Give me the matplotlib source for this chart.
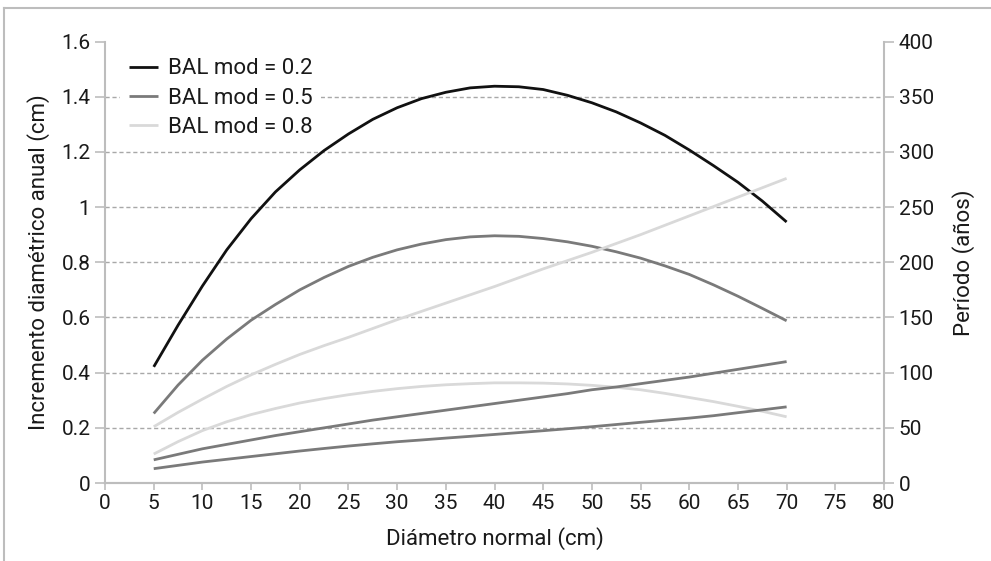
import matplotlib
matplotlib.use("Agg")
import matplotlib.pyplot as plt
from matplotlib.lines import Line2D

plt.rcParams['font.family'] = ['Roboto', 'DejaVu Sans']

# Data
diam = [5, 7.5, 10, 12.5, 15, 17.5, 20, 22.5, 25, 27.5, 30, 32.5, 35, 37.5, 40,
        42.5, 45, 47.5, 50, 52.5, 55, 57.5, 60, 62.5, 65, 67.5, 70]
inc_02 = [0.421, 0.572, 0.714, 0.845, 0.958, 1.055, 1.135, 1.205, 1.265, 1.318, 1.36,
          1.393, 1.416, 1.432, 1.438, 1.436, 1.426, 1.405, 1.378, 1.345, 1.305, 1.26,
          1.207, 1.15, 1.09, 1.022, 0.946]
inc_05 = [0.252, 0.355, 0.445, 0.522, 0.59, 0.647, 0.70, 0.745, 0.785, 0.818, 0.845,
          0.866, 0.882, 0.892, 0.896, 0.894, 0.886, 0.874, 0.858, 0.838, 0.815, 0.787,
          0.756, 0.718, 0.677, 0.633, 0.588]
inc_08 = [0.105, 0.15, 0.19, 0.222, 0.248, 0.27, 0.29, 0.306, 0.32, 0.332, 0.342,
          0.35, 0.356, 0.36, 0.363, 0.363, 0.362, 0.359, 0.354, 0.347, 0.338, 0.325,
          0.31, 0.295, 0.278, 0.26, 0.24]
per_08 = [51, 64, 76, 87.5, 98, 107.5, 116.5, 124.5, 132, 140, 148, 155.5, 163, 170.5, 178,
          186, 194, 201.5, 209, 217, 225, 233.5, 242, 250.5, 259, 267.5, 276]
per_05 = [21, 26, 31, 35, 39, 43, 46.5, 50, 53.5, 57, 60, 63, 66, 69, 72,
          75, 78, 81, 84.5, 87, 90, 93, 96, 99.5, 103, 106.5, 110]
per_02 = [13, 16, 19, 21.5, 24, 26.5, 29, 31.3, 33.5, 35.5, 37.4, 39, 40.7, 42.3, 44,
          45.7, 47.4, 49.2, 51, 53, 55, 56.9, 58.8, 61, 63.7, 66.3, 69]
labels = ['BAL mod = 0.2', 'BAL mod = 0.5', 'BAL mod = 0.8']
xticks = list(range(0, 81, 5))
yticks_left = [0, 0.2, 0.4, 0.6, 0.8, 1.0, 1.2, 1.4, 1.6]
yticklabels_left = ['0', '0.2', '0.4', '0.6', '0.8', '1', '1.2', '1.4', '1.6']
yticks_right = list(range(0, 401, 50))

c_black = '#111111'
c_dark = '#7a7a7a'
c_light = '#d9d9d9'
c_axis = '#bdbdbd'
c_text = '#1a1a1a'
lw = 2.0
lkw = dict(lw=lw, solid_capstyle='butt', solid_joinstyle='round')

fig = plt.figure(figsize=(9.91, 5.61), dpi=100)
ax = fig.add_axes([0.106, 0.139, 0.786, 0.787])
ax2 = ax.twinx()

# grid lines (left axis major ticks)
for v in yticks_left[1:-1]:
    ax.axhline(v, color='#a8a8a8', lw=1.0, ls=(0, (3, 2)), zorder=0)

ax.plot(diam, inc_08, color=c_light, zorder=3, **lkw)
ax.plot(diam, inc_05, color=c_dark, zorder=3, **lkw)
ax.plot(diam, inc_02, color=c_black, zorder=4, **lkw)
ax2.plot(diam, per_08, color=c_light, **lkw)
ax2.plot(diam, per_05, color=c_dark, **lkw)
ax2.plot(diam, per_02, color=c_dark, **lkw)

ax.set_xlim(0, 80)
ax.set_ylim(0, 1.6)
ax2.set_ylim(0, 400)
ax.set_xticks(xticks)
ax.set_yticks(yticks_left)
ax.set_yticklabels(yticklabels_left)
ax2.set_yticks(yticks_right)

for a in (ax, ax2):
    a.spines['top'].set_visible(False)
    for s in ['left', 'right', 'bottom']:
        a.spines[s].set_color(c_axis)
        a.spines[s].set_linewidth(1.5)
    a.tick_params(colors=c_axis, labelcolor=c_text, width=1.2, length=7, labelsize=15)
ax.tick_params(axis='x', length=5, pad=3)
ax2.spines['left'].set_visible(False)
ax.spines['right'].set_visible(False)

ax.set_xlabel('Diámetro normal (cm)', fontsize=16, color=c_text, labelpad=10)
ax.set_ylabel('Incremento diamétrico anual (cm)', fontsize=16, color=c_text, labelpad=8)
ax2.set_ylabel('Período (años)', fontsize=16, color=c_text, labelpad=13)

handles = [Line2D([], [], color=c, **lkw) for c in (c_black, c_dark, c_light)]
leg = ax.legend(handles, labels, loc='upper left', frameon=True, fontsize=16,
                handlelength=1.3, handletextpad=0.45, labelspacing=0.38,
                bbox_to_anchor=(0.019, 0.982), borderaxespad=0, fancybox=False,
                facecolor='white', edgecolor='none', framealpha=1.0)
leg.set_zorder(5)
for t in leg.get_texts():
    t.set_color(c_text)

# figure border (top & left)
fig.add_artist(Line2D([0.004, 1.0], [1 - 8/561, 1 - 8/561], transform=fig.transFigure, color=c_axis, lw=1.5))
fig.add_artist(Line2D([0.004, 0.004], [0, 1 - 8/561], transform=fig.transFigure, color=c_axis, lw=1.5))

fig.savefig('out.png', dpi=100)
